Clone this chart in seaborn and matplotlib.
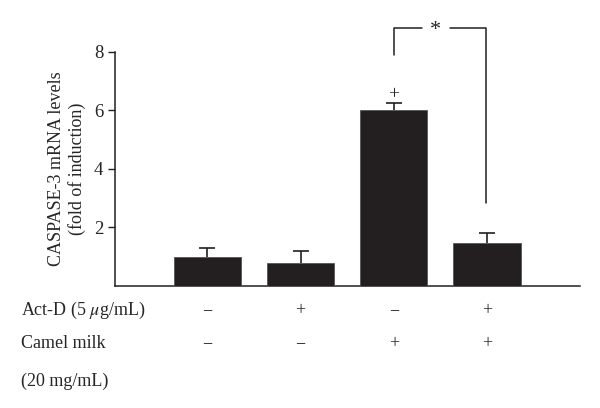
import numpy as np
import pandas as pd
import matplotlib
matplotlib.use("Agg")
import matplotlib.pyplot as plt
import seaborn as sns

# values
groups = ["g1", "g2", "g3", "g4"]
means = [1.0, 0.8, 6.0, 1.47]
errs = [0.30, 0.38, 0.25, 0.35]
actd = ["\u2212", "+", "\u2212", "+"]
camel = ["\u2212", "\u2212", "+", "+"]

sns.set_style("ticks")
plt.rcParams["font.family"] = ["Liberation Serif", "DejaVu Serif"]
plt.rcParams["mathtext.fontset"] = "stix"

df = pd.DataFrame({"group": groups, "value": means})

fig = plt.figure(figsize=(6, 4.08), dpi=100)
ax = fig.add_axes([0.192, 0.299, 0.775, 0.574])

sns.barplot(data=df, x="group", y="value", color="#231f20", width=0.72,
            saturation=1, edgecolor="#555555", linewidth=0.6, ax=ax)
for p in ax.patches:
    p.set_zorder(3)
x = np.arange(len(groups))
eb = ax.errorbar(x, means, yerr=[np.zeros(len(errs)), errs], fmt="none",
                 ecolor="#231f20", elinewidth=1.2, capsize=5.5, capthick=1.2, zorder=2)
# only the upper caps
eb[1][0].set_visible(False)

ax.set_xlim(-0.99, 4.0)
ax.set_ylim(0, 8)
ax.set_yticks([2, 4, 6, 8])
ax.set_xticks([])
ax.set_xlabel("")
ax.set_ylabel("CASPASE-3 mRNA levels\n(fold of induction)", fontsize=13, labelpad=6)
ax.tick_params(axis="y", labelsize=13.5, length=5, width=1, color="#231f20")
for s in ["top", "right"]:
    ax.spines[s].set_visible(False)
for s in ["left", "bottom"]:
    ax.spines[s].set_color("#231f20")
    ax.spines[s].set_linewidth(1.1)

# significance marks
ax.text(2, 6.55, "+", ha="center", va="center", fontsize=14)
kw = dict(color="#231f20", lw=1.1, clip_on=False)
ax.plot([2, 2, 2.3], [7.9, 8.8, 8.8], **kw)
ax.plot([2.6, 2.99, 2.99], [8.8, 8.8, 2.85], **kw)
ax.text(2.45, 8.72, "*", ha="center", va="center", fontsize=16, clip_on=False)

# treatment table below the axis
fs = 13
rows_y = [-0.85, -1.98, -3.25]
ax.text(-2.0, rows_y[0], "Act-D (5 $\\mathit{\\mu}$g/mL)", ha="left", va="center", fontsize=fs, clip_on=False)
ax.text(-2.0, rows_y[1], "Camel milk", ha="left", va="center", fontsize=fs, clip_on=False)
ax.text(-2.0, rows_y[2], "(20 mg/mL)", ha="left", va="center", fontsize=fs, clip_on=False)
for i in range(len(groups)):
    ax.text(x[i], rows_y[0], actd[i], ha="center", va="center", fontsize=fs, clip_on=False)
    ax.text(x[i], rows_y[1], camel[i], ha="center", va="center", fontsize=fs, clip_on=False)

fig.savefig("out.png", dpi=100)
